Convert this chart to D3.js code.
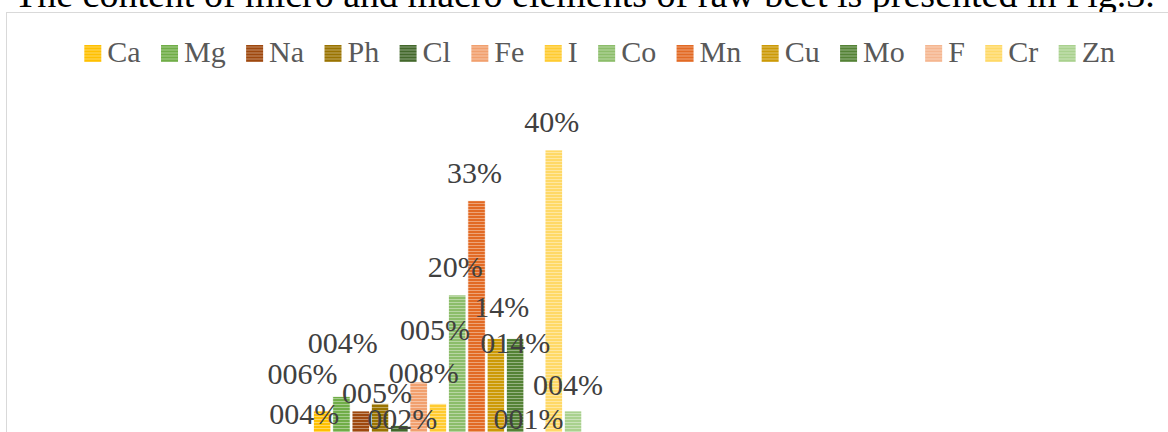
<!DOCTYPE html>
<html>
<head>
<meta charset="utf-8">
<script src="https://cdn.jsdelivr.net/npm/d3@7"></script>
<style>
  html, body { margin: 0; padding: 0; background: #fff; overflow: hidden; }
  svg { display: block; }
</style>
</head>
<body>
<svg id="chart" width="1168" height="432"></svg>
<script>
// Micro and macro elements of raw beet, share of content (%)
const elements = ["Ca", "Mg", "Na", "Ph", "Cl", "Fe", "I", "Co", "Mn", "Cu", "Mo", "F", "Cr", "Zn"];
const shares = [4, 6, 4, 5, 2, 8, 5, 20, 33, 14, 14, 1, 40, 4];
const shareLabels = ["004%", "006%", "004%", "005%", "002%", "008%", "005%", "20%", "33%", "14%", "014%", "001%", "40%", "004%"];

// Series fill colours (striped fills)
const seriesColors = ["#FFC000", "#70AD47", "#9E480E", "#997300", "#43682B", "#F1A06E", "#FFCB30",
                      "#8CBD6A", "#E26A24", "#CC9A06", "#548235", "#F5B690", "#FFD966", "#A9D18E"];

// Hand-placed data labels: offset from the default spot above each bar
const labelNudge = [[-18, 31], [-39, 5], [-18, -40], [-3, 17], [3, 21], [5, 19], [-3, -46],
                    [-2, 0], [-2, 0], [6, -4], [0, 32], [-6, 14], [-2, 0], [-5, 2]];

const title = "The content of micro and macro elements of raw beet is presented in Fig.3.";

const svg = d3.select("#chart");
const serif = "'Liberation Serif', 'Times New Roman', serif";

// Striped fill patterns
const defs = svg.append("defs");
elements.forEach((name, i) => {
  const p = defs.append("pattern")
    .attr("id", "stripe-" + i)
    .attr("patternUnits", "userSpaceOnUse")
    .attr("width", 8).attr("height", 3);
  p.append("rect").attr("width", 8).attr("height", 3).attr("fill", seriesColors[i]);
  p.append("rect").attr("y", 2).attr("width", 8).attr("height", 1)
    .attr("fill", "#fff").attr("fill-opacity", 0.38);
});

// Running text above the chart frame
const titleText = svg.append("text")
  .attr("x", 14).attr("y", 7)
  .attr("font-family", serif)
  .attr("font-size", 36)
  .attr("fill", "#000")
  .text(title);
const tLen = titleText.node().getComputedTextLength();
titleText.attr("font-size", 36 * 1141 / tLen);

// Chart frame
svg.append("rect")
  .attr("x", 6.5).attr("y", 12.5)
  .attr("width", 1300).attr("height", 600)
  .attr("fill", "#fff")
  .attr("stroke", "#D9D9D9").attr("stroke-width", 1);

// Legend
const legend = svg.append("g").attr("transform", "translate(84.3,53.5)");
const legendFont = 30;
let lx = 0;
elements.forEach((name, i) => {
  const g = legend.append("g").attr("transform", `translate(${lx},0)`);
  g.append("rect").attr("x", 0).attr("y", -8.5).attr("width", 17).attr("height", 17)
    .attr("fill", `url(#stripe-${i})`);
  const t = g.append("text").attr("x", 23).attr("y", 8.2)
    .attr("font-family", serif).attr("font-size", legendFont)
    .attr("fill", "#595959").text(name);
  lx += 23 + t.node().getComputedTextLength() + 20.4;
});

// Scales
const x = d3.scaleBand()
  .domain(elements)
  .range([312.5, 312.5 + 14 * 19.3])
  .paddingInner(0.1)
  .paddingOuter(0.05);

const y = d3.scaleLinear()
  .domain([0, 45])
  .range([440, 113.75]);

// Bars
svg.append("g")
  .selectAll("rect")
  .data(elements)
  .join("rect")
  .attr("x", d => x(d))
  .attr("width", x.bandwidth())
  .attr("y", (d, i) => y(shares[i]))
  .attr("height", (d, i) => y(0) - y(shares[i]))
  .attr("fill", (d, i) => `url(#stripe-${i})`)
  .attr("stroke", "#fff")
  .attr("stroke-width", 0.75);

// Data labels
svg.append("g")
  .selectAll("text")
  .data(elements)
  .join("text")
  .attr("x", (d, i) => x(d) + x.bandwidth() / 2 + labelNudge[i][0])
  .attr("y", (d, i) => y(shares[i]) - 18 + labelNudge[i][1])
  .attr("text-anchor", "middle")
  .attr("font-family", serif)
  .attr("font-size", 30)
  .attr("fill", "#404040")
  .text((d, i) => shareLabels[i]);
</script>
</body>
</html>
